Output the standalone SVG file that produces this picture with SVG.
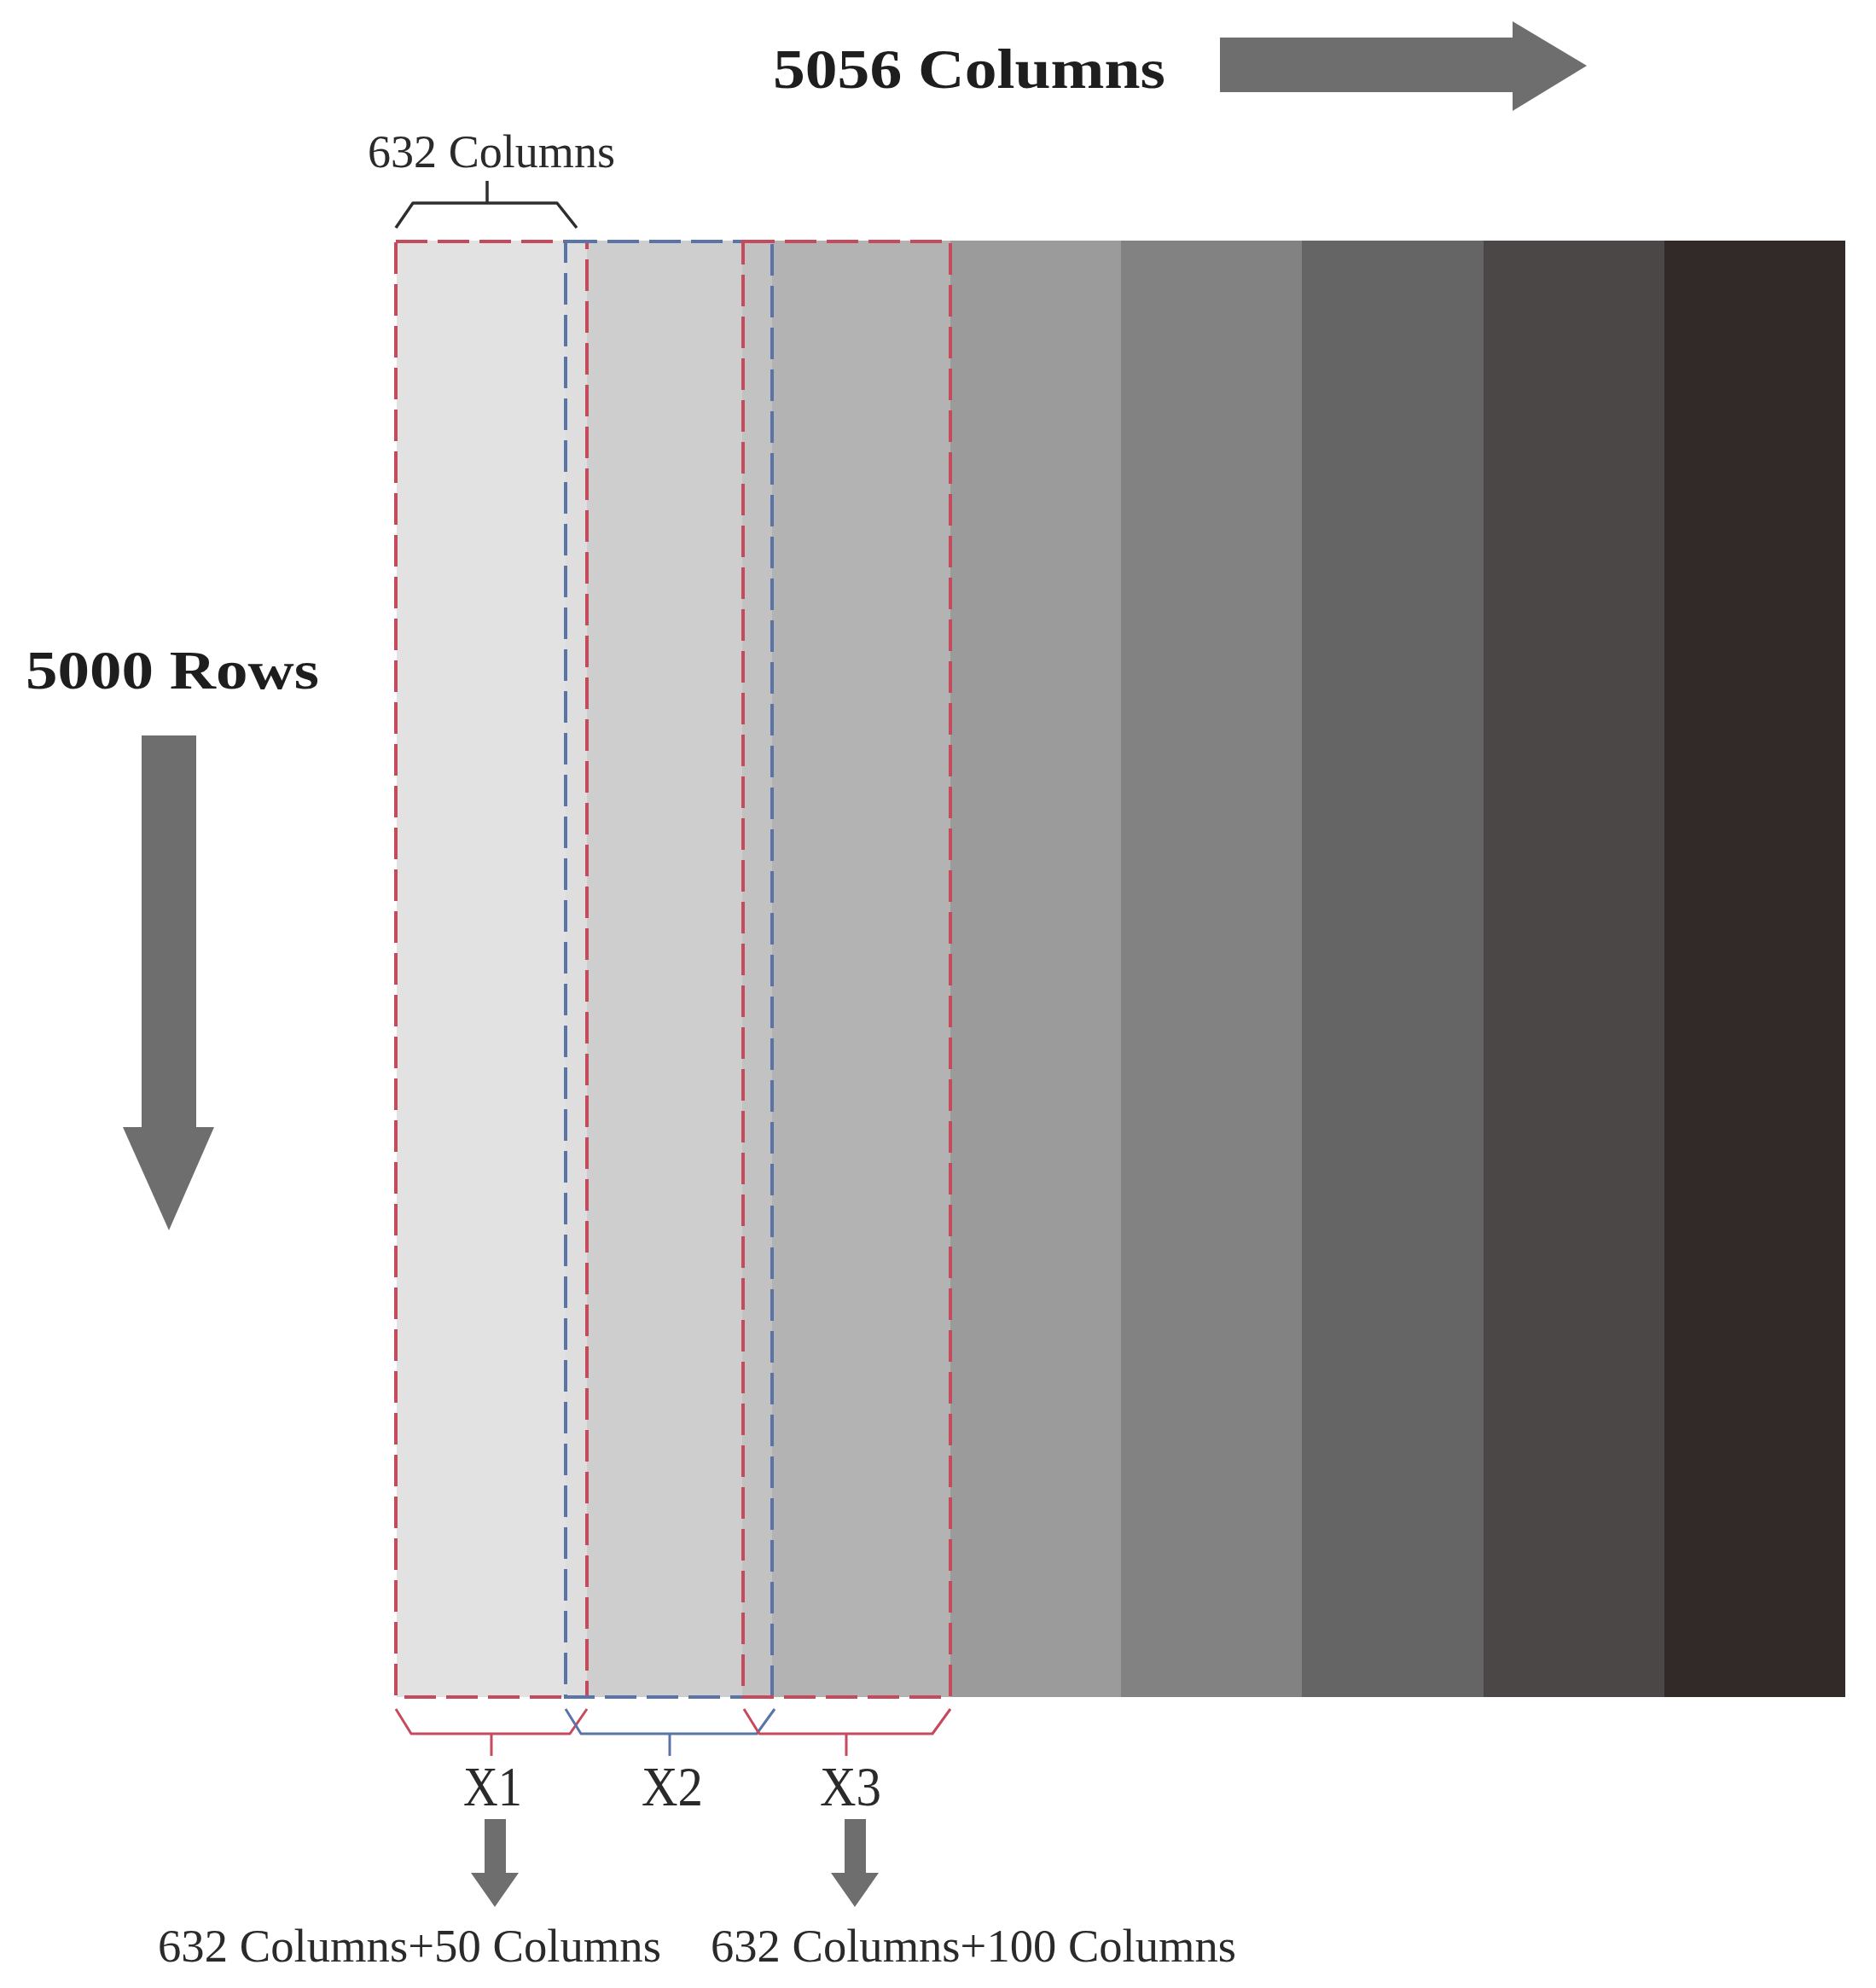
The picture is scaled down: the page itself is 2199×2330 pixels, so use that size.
<svg xmlns="http://www.w3.org/2000/svg" width="2199" height="2330" viewBox="0 0 2199 2330">
<style>
.lbl{font-family:"Liberation Serif","Times New Roman",serif;fill:#2a2a2a}
.big{font-family:"Liberation Serif","Times New Roman",serif;font-weight:bold;fill:#1e1e1e}
.red{fill:none;stroke:#c44a5c;stroke-width:4;stroke-dasharray:37 12}
.blue{fill:none;stroke:#5a74a8;stroke-width:4;stroke-dasharray:37 12}
.bred{fill:none;stroke:#c44a5c;stroke-width:3;stroke-linejoin:round}
.bblue{fill:none;stroke:#5a74a8;stroke-width:3;stroke-linejoin:round}
.arrow{fill:#6e6e6e}
</style>
<rect width="2199" height="2330" fill="#ffffff"/>
<g id="matrix">
<rect x="465" y="282" width="200" height="1707" fill="#e2e2e2"/>
<rect x="663" y="282" width="25" height="1707" fill="#dedede"/>
<rect x="688" y="282" width="183" height="1707" fill="#cecece"/>
<rect x="870" y="282" width="36" height="1707" fill="#c2c2c2"/>
<rect x="905" y="282" width="210" height="1707" fill="#b3b3b3"/>
<rect x="1114" y="282" width="201" height="1707" fill="#9b9b9b"/>
<rect x="1314" y="282" width="213" height="1707" fill="#828282"/>
<rect x="1526" y="282" width="214" height="1707" fill="#656565"/>
<rect x="1739" y="282" width="213" height="1707" fill="#4b4747"/>
<rect x="1951" y="282" width="212" height="1707" fill="#322a29"/>
</g>
<g id="window-X1">
<rect class="red" x="464" y="283" width="224" height="1706"/>
</g>
<g id="window-X2">
<rect class="blue" x="663" y="283" width="242" height="1706"/>
</g>
<g id="window-X3">
<rect class="red" x="871" y="283" width="243" height="1706"/>
</g>
<g id="top-brace">
<polyline points="464,267 484,238 653,238 676,267" fill="none" stroke="#2e2e2e" stroke-width="3.5" stroke-linejoin="round"/>
<line x1="571" y1="238" x2="571" y2="212" stroke="#2e2e2e" stroke-width="3.5"/>
<text class="lbl" x="431" y="196" font-size="55" textLength="290" lengthAdjust="spacingAndGlyphs">632 Columns</text>
</g>
<g id="braces">
<polyline class="bred" points="464,2003 482,2032 668,2032 688,2003"/>
<line x1="576" y1="2032" x2="576" y2="2058" stroke="#c44a5c" stroke-width="3"/>
<polyline class="bblue" points="663,2003 681,2032 887,2032 908,2003"/>
<line x1="785" y1="2032" x2="785" y2="2058" stroke="#5a74a8" stroke-width="3"/>
<polyline class="bred" points="872,2003 890,2032 1093,2032 1114,2003"/>
<line x1="992" y1="2032" x2="992" y2="2058" stroke="#c44a5c" stroke-width="3"/>
</g>
<g id="label-X1"><text class="lbl" x="543" y="2116" font-size="66" textLength="69" lengthAdjust="spacingAndGlyphs">X1</text></g>
<g id="label-X2"><text class="lbl" x="752" y="2116" font-size="66" textLength="72" lengthAdjust="spacingAndGlyphs">X2</text></g>
<g id="label-X3"><text class="lbl" x="961" y="2116" font-size="66" textLength="72" lengthAdjust="spacingAndGlyphs">X3</text></g>
<g id="connectors">
<polygon class="arrow" points="1430,44 1773,44 1773,25 1860,77 1773,130 1773,108 1430,108"/>
<polygon class="arrow" points="166,862 230,862 230,1321 251,1321 198,1442 144,1321 166,1321"/>
<polygon class="arrow" points="568,2132 593,2132 593,2195 608,2195 580,2235 552,2195 568,2195"/>
<polygon class="arrow" points="990,2132 1015,2132 1015,2195 1030,2195 1002,2235 974,2195 990,2195"/>
</g>
<g id="title-columns"><text class="big" x="906" y="103" font-size="66" textLength="460" lengthAdjust="spacingAndGlyphs">5056 Columns</text></g>
<g id="title-rows"><text class="big" x="30" y="807" font-size="64" textLength="344" lengthAdjust="spacingAndGlyphs">5000 Rows</text></g>
<g id="result-1"><text class="lbl" x="185" y="2299" font-size="54" textLength="590" lengthAdjust="spacingAndGlyphs">632 Columns+50 Columns</text></g>
<g id="result-2"><text class="lbl" x="833" y="2299" font-size="54" textLength="616" lengthAdjust="spacingAndGlyphs">632 Columns+100 Columns</text></g>
</svg>
